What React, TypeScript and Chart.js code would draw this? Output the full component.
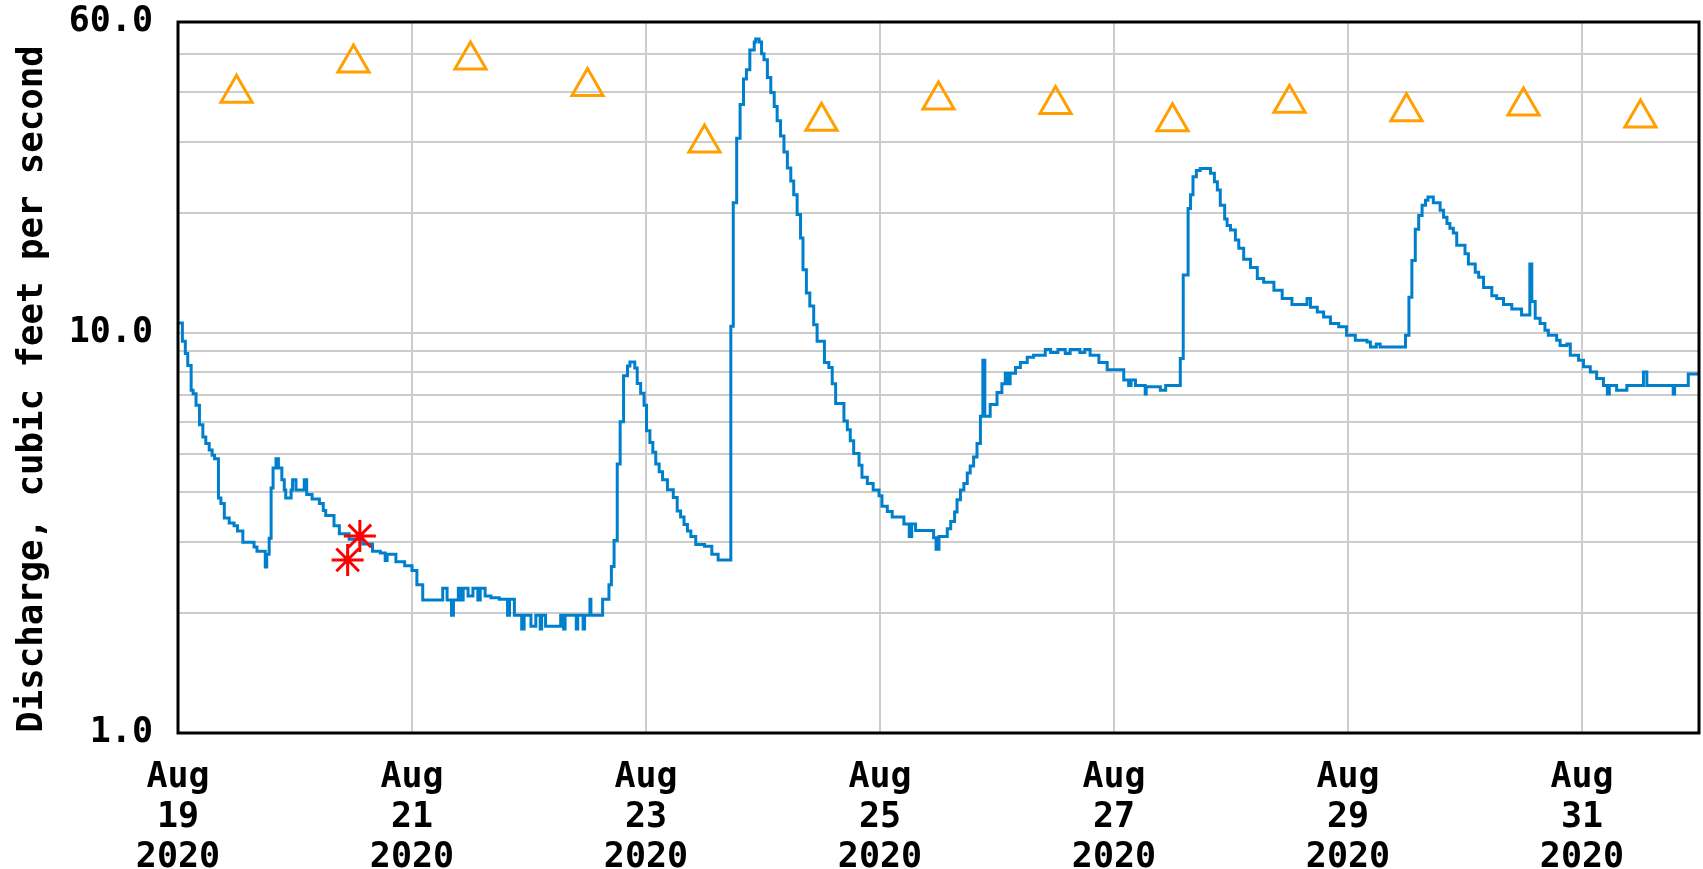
import { useEffect, useRef } from 'react';
import { Chart, registerables } from 'chart.js';

Chart.register(...registerables);

// Hours since Aug 19 2020 00:00
const xTickHours = [0, 48, 96, 144, 192, 240, 288];
const xTickLabels = [
  ['Aug', '19', '2020'],
  ['Aug', '21', '2020'],
  ['Aug', '23', '2020'],
  ['Aug', '25', '2020'],
  ['Aug', '27', '2020'],
  ['Aug', '29', '2020'],
  ['Aug', '31', '2020'],
];
const yTickValues = [1, 2, 3, 4, 5, 6, 7, 8, 9, 10, 20, 30, 40, 50, 60];
const yLabeledTicks = [1, 10, 60];
const yTitle = 'Discharge, cubic feet per second';

// Instantaneous discharge readings [hour, cfs]
const flowReadings: [number, number][] = [
  [0, 10.6], [0.9, 9.55], [1.5, 8.9], [2.0, 8.3], [2.7, 7.2], [3.1, 7.05], [3.7, 6.6], [4.4, 5.9],
  [5.1, 5.5], [5.7, 5.3], [6.4, 5.1], [7.0, 4.95], [7.5, 4.85], [8.3, 3.87], [8.8, 3.75], [9.5, 3.45],
  [10.5, 3.35], [11.5, 3.3], [12.2, 3.2], [13.3, 3.0], [15.6, 2.92], [16.2, 2.85], [17.9, 2.6], [18.2, 2.8],
  [18.7, 3.07], [19.1, 4.1], [19.5, 4.6], [20.1, 4.85], [20.6, 4.6], [21.3, 4.3], [21.8, 4.05], [22.1, 3.87],
  [23.2, 4.05], [23.5, 4.3], [24.2, 4.05], [25.9, 4.3], [26.4, 3.95], [27.5, 3.85], [29.0, 3.75], [29.8, 3.6],
  [30.3, 3.5], [32.0, 3.3], [33.1, 3.15], [35.1, 3.05], [37.9, 2.97], [39.9, 2.85], [41.5, 2.82], [42.5, 2.7],
  [42.9, 2.8], [44.7, 2.68], [46.5, 2.62], [48.0, 2.55], [49.0, 2.35], [50.2, 2.15], [54.3, 2.3], [55.2, 2.15],
  [56.1, 1.97], [56.5, 2.15], [57.5, 2.3], [58.0, 2.15], [58.5, 2.3], [59.5, 2.2], [60.5, 2.3], [61.5, 2.15],
  [62.0, 2.3], [63.0, 2.2], [64.2, 2.18], [65.9, 2.16], [67.6, 1.97], [68.0, 2.16], [69.0, 1.97], [70.5, 1.82],
  [71.0, 1.97], [72.4, 1.85], [73.4, 1.97], [74.3, 1.82], [74.6, 1.97], [75.4, 1.85], [78.5, 1.97], [79.1, 1.82],
  [79.4, 1.97], [81.7, 1.82], [82.0, 1.97], [83.1, 1.82], [83.4, 1.97], [84.5, 2.16], [84.7, 1.97], [87.1, 2.16],
  [88.4, 2.35], [88.9, 2.61], [89.45, 3.03], [90.1, 4.71], [90.7, 6.0], [91.4, 7.83], [92.2, 8.28], [92.7, 8.47],
  [93.7, 8.18], [94.2, 7.48], [94.9, 7.07], [95.6, 6.6], [96.1, 5.7], [96.8, 5.33], [97.4, 5.04], [98.0, 4.71],
  [98.7, 4.5], [99.4, 4.3], [100.4, 4.06], [101.6, 3.88], [102.4, 3.59], [103.1, 3.47], [103.8, 3.32], [104.5, 3.2],
  [105.2, 3.1], [106.2, 2.96], [108.0, 2.93], [109.5, 2.8], [110.8, 2.71], [113.4, 10.4], [113.9, 21.2], [114.6, 30.7],
  [115.3, 37.3], [116.0, 43.2], [116.6, 45.6], [117.3, 51.1], [118.2, 53.5], [118.5, 54.4], [119.2, 53.5], [119.7, 50.0],
  [120.2, 48.3], [120.9, 43.6], [121.6, 40.0], [122.3, 36.9], [122.9, 34.0], [123.6, 31.1], [124.3, 28.4], [125.0, 25.9],
  [125.7, 24.0], [126.3, 22.2], [127.0, 19.8], [127.7, 17.3], [128.2, 14.4], [128.9, 12.6], [129.6, 11.7], [130.4, 10.5],
  [131.1, 9.55], [132.6, 8.45], [133.5, 8.2], [134.2, 7.47], [134.9, 6.67], [136.6, 6.03], [137.3, 5.73], [137.9, 5.38],
  [138.6, 5.0], [139.7, 4.67], [140.3, 4.36], [141.4, 4.21], [142.6, 4.05], [143.8, 3.92], [144.4, 3.69], [145.5, 3.58],
  [146.5, 3.47], [148.9, 3.33], [150.0, 3.1], [150.5, 3.33], [151.3, 3.21], [155.0, 3.08], [155.5, 2.88], [156.1, 3.1],
  [157.8, 3.24], [158.5, 3.38], [159.3, 3.57], [159.8, 3.83], [160.5, 4.05], [161.2, 4.21], [161.9, 4.47], [162.5, 4.65],
  [163.2, 4.9], [163.9, 5.3], [164.6, 6.2], [165.1, 8.55], [165.5, 6.2], [166.6, 6.63], [168.0, 7.1], [169.0, 7.47],
  [169.7, 7.94], [170.2, 7.47], [170.7, 7.94], [171.8, 8.2], [172.8, 8.45], [174.2, 8.7], [175.5, 8.8], [177.9, 9.1],
  [179.0, 8.95], [180.5, 9.1], [182.0, 8.9], [183.0, 9.1], [185.0, 8.95], [186.0, 9.1], [187.1, 8.8], [188.9, 8.45],
  [190.6, 8.1], [194.0, 7.63], [195.0, 7.4], [195.5, 7.63], [196.4, 7.4], [198.4, 7.04], [198.6, 7.34], [201.5, 7.2],
  [202.6, 7.4], [205.6, 8.64], [206.2, 13.97], [207.2, 20.5], [207.7, 22.2], [208.2, 24.6], [208.9, 25.5], [209.7, 25.8],
  [211.8, 25.1], [212.6, 23.9], [213.2, 22.8], [213.8, 20.9], [214.7, 19.3], [215.2, 18.6], [215.9, 18.1], [216.9, 17.1],
  [217.6, 16.3], [218.6, 15.3], [220.0, 14.6], [221.4, 13.7], [222.7, 13.4], [224.8, 12.8], [226.5, 12.2], [228.5, 11.8],
  [231.6, 12.2], [232.3, 11.6], [233.7, 11.3], [235.0, 10.98], [236.4, 10.57], [238.1, 10.37], [239.7, 9.88], [241.5, 9.6],
  [243.9, 9.5], [244.6, 9.23], [245.8, 9.4], [246.6, 9.23], [251.8, 9.88], [252.5, 12.3], [253.1, 15.2], [253.8, 18.2],
  [254.5, 19.7], [255.2, 20.9], [255.9, 21.5], [256.4, 21.9], [257.5, 21.2], [258.9, 20.3], [259.6, 19.5], [260.3, 18.8],
  [260.9, 18.3], [261.6, 17.8], [262.3, 16.6], [264.0, 15.8], [264.7, 14.9], [266.1, 14.2], [266.8, 13.8], [267.8, 13.0],
  [269.5, 12.4], [270.5, 12.2], [271.9, 11.8], [273.6, 11.5], [275.6, 11.1], [277.3, 14.9], [277.7, 12.0], [278.4, 10.9],
  [279.4, 10.57], [280.4, 10.17], [281.1, 9.88], [282.8, 9.6], [283.5, 9.32], [284.9, 9.4], [285.6, 8.8], [287.3, 8.56],
  [288.3, 8.24], [289.7, 8.0], [291.0, 7.7], [292.4, 7.4], [293.2, 7.04], [293.6, 7.4], [295.1, 7.2], [297.2, 7.4],
  [300.6, 8.0], [301.3, 7.4], [306.7, 7.04], [307.0, 7.4], [309.8, 7.9], [312, 7.9],
];

// Median of daily statistics (noon of each day)
const medianHours = [12, 36, 60, 84, 108, 132, 156, 180, 204, 228, 252, 276, 300];
const medianValues = [39.8, 47.4, 48.2, 41.4, 29.9, 33.9, 38.3, 37.3, 33.8, 37.6, 35.8, 37.0, 34.5];

// Field measurements
const measuredHours = [34.8, 37.3];
const measuredValues = [2.71, 3.11];

const FONT = '"DejaVu Sans Mono", "Liberation Mono", monospace';

export default function App() {
  const canvasRef = useRef<HTMLCanvasElement | null>(null);

  useEffect(() => {
    const canvas = canvasRef.current;
    if (!canvas) return;

    const framePlugin = {
      id: 'frameAndTitle',
      afterDraw(chart: any) {
        const { ctx, chartArea } = chart;
        ctx.save();
        ctx.strokeStyle = '#000';
        ctx.lineWidth = 3;
        ctx.strokeRect(chartArea.left, chartArea.top, chartArea.right - chartArea.left, chartArea.bottom - chartArea.top);
        ctx.translate(42, 389);
        ctx.rotate(-Math.PI / 2);
        ctx.font = `bold 35.7px ${FONT}`;
        ctx.fillStyle = '#000';
        ctx.textAlign = 'center';
        ctx.textBaseline = 'alphabetic';
        ctx.fillText(yTitle, 0, 0);
        ctx.restore();
      },
    };

    const chart = new Chart(canvas, {
      type: 'line',
      data: {
        datasets: [
          {
            label: 'Measured',
            data: measuredHours.map((h, i) => ({ x: h, y: measuredValues[i] })),
            showLine: false,
            pointStyle: 'star',
            pointRadius: 16,
            pointBorderWidth: 3,
            borderColor: '#ff0000',
            backgroundColor: '#ff0000',
            order: 0,
          },
          {
            label: 'Median',
            data: medianHours.map((h, i) => ({ x: h, y: medianValues[i] })),
            showLine: false,
            pointStyle: 'triangle',
            pointRadius: 18,
            pointBorderWidth: 3,
            borderColor: '#ffa000',
            backgroundColor: 'rgba(0,0,0,0)',
            order: 1,
          },
          {
            label: 'Discharge',
            data: flowReadings.map(([h, v]) => ({ x: h, y: v })),
            stepped: true,
            borderColor: '#0080cc',
            borderWidth: 3,
            pointRadius: 0,
            fill: false,
            order: 2,
          },
        ],
      },
      options: {
        responsive: false,
        animation: false,
        events: [],
        layout: { autoPadding: false, padding: { top: 22, right: 4, left: 0, bottom: 0 } },
        plugins: {
          legend: { display: false },
          tooltip: { enabled: false },
          title: { display: false },
        },
        scales: {
          x: {
            type: 'linear',
            min: 0,
            max: 312,
            afterBuildTicks: (s: any) => {
              s.ticks = xTickHours.map((v) => ({ value: v }));
            },
            afterFit: (s: any) => {
              s.height = 136;
              s.paddingLeft = 0;
              s.paddingRight = 0;
            },
            ticks: {
              autoSkip: false,
              maxRotation: 0,
              minRotation: 0,
              padding: 25,
              color: '#000',
              font: { family: FONT, size: 35, weight: 'bold', lineHeight: 40 / 35 },
              callback: (_v: any, i: number) => xTickLabels[i],
            },
            grid: { color: '#cccccc', lineWidth: 2, drawTicks: false },
            border: { display: false },
          },
          y: {
            type: 'logarithmic',
            min: 1,
            max: 60,
            afterBuildTicks: (s: any) => {
              s.ticks = yTickValues.map((v) => ({ value: v }));
            },
            afterFit: (s: any) => {
              s.width = 178;
              s.paddingTop = 0;
              s.paddingBottom = 0;
            },
            ticks: {
              autoSkip: false,
              padding: 25,
              color: '#000',
              font: { family: FONT, size: 35, weight: 'bold' },
              callback: (v: any) => (yLabeledTicks.includes(Number(v)) ? Number(v).toFixed(1) : ''),
            },
            grid: { color: '#cccccc', lineWidth: 2, drawTicks: false },
            border: { display: false },
          },
        },
      },
      plugins: [framePlugin],
    } as any);

    return () => chart.destroy();
  }, []);

  return (
    <div style={{ position: 'absolute', left: 0, top: 0, width: 1703, height: 869, background: '#fff' }}>
      <canvas ref={canvasRef} width={1703} height={869} style={{ width: 1703, height: 869, display: 'block' }} />
    </div>
  );
}
